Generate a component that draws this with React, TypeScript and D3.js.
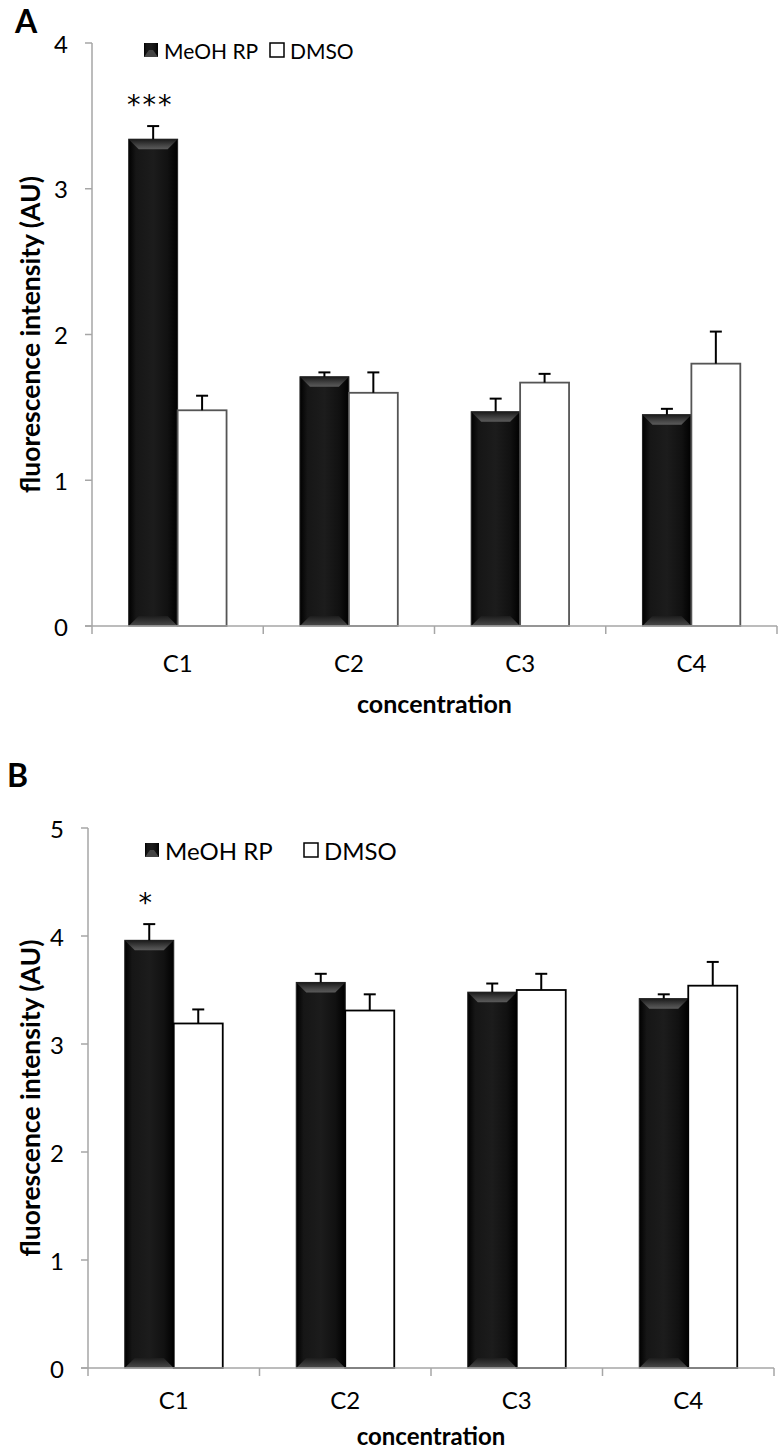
import { useMemo } from 'react';
import * as d3 from 'd3';

// data
const categories = ['C1', 'C2', 'C3', 'C4'];
const seriesNames = ['MeOH RP', 'DMSO'];

const meohA = [3.34, 1.71, 1.47, 1.45];
const meohErrA = [0.09, 0.03, 0.09, 0.04];
const dmsoA = [1.48, 1.6, 1.67, 1.8];
const dmsoErrA = [0.1, 0.14, 0.06, 0.22];
const starsA = ['***', '', '', ''];
const ticksA = [0, 1, 2, 3, 4];

const meohB = [3.96, 3.57, 3.48, 3.42];
const meohErrB = [0.15, 0.08, 0.08, 0.04];
const dmsoB = [3.19, 3.31, 3.5, 3.54];
const dmsoErrB = [0.13, 0.15, 0.15, 0.22];
const starsB = ['*', '', '', ''];
const ticksB = [0, 1, 2, 3, 4, 5];

const FONT = 'Lato, "Open Sans", sans-serif';
const AXIS = '#a6a6a6';

interface PanelProps {
  letter: string;
  letterX: number;
  letterY: number;
  top: number;
  bottom: number;
  left: number;
  right: number;
  ticks: number[];
  meoh: number[];
  meohErr: number[];
  dmso: number[];
  dmsoErr: number[];
  stars: string[];
  legendY: number;
  legendX: [number, number];
  legendFont: number;
  whiteStroke: string;
  catOffset: number;
  titleOffset: number;
  titleFont: number;
}

function BlackBar({ x, y, w, h }: { x: number; y: number; w: number; h: number }) {
  const b = Math.min(10, h / 2);
  return (
    <g>
      <rect x={x} y={y} width={w} height={h} fill="url(#barSide)" stroke="#222" strokeWidth={1} />
      <polygon
        points={`${x},${y} ${x + w},${y} ${x + w - b},${y + b} ${x + b},${y + b}`}
        fill="url(#bevelTop)"
      />
      <polygon
        points={`${x},${y + h} ${x + w},${y + h} ${x + w - b},${y + h - b} ${x + b},${y + h - b}`}
        fill="url(#bevelBottom)"
      />
    </g>
  );
}

function Panel(p: PanelProps) {
  const x0 = useMemo(
    () =>
      d3
        .scaleBand<string>()
        .domain(categories)
        .range([p.left, p.right])
        .paddingInner(1.5 / 3.5)
        .paddingOuter(0.75 / 3.5),
    [p.left, p.right],
  );
  const x1 = d3.scaleBand<string>().domain(seriesNames).range([0, x0.bandwidth()]);
  const y = d3
    .scaleLinear()
    .domain([0, d3.max(p.ticks)!])
    .range([p.bottom, p.top]);
  const step = x0.step();
  const w = x1.bandwidth();

  const errBar = (cx: number, v: number, e: number, key: string) => (
    <g key={key} stroke="#000" strokeWidth={2}>
      <line x1={cx} x2={cx} y1={y(v)} y2={y(v + e)} />
      <line x1={cx - 6} x2={cx + 6} y1={y(v + e)} y2={y(v + e)} />
    </g>
  );

  const midY = (p.top + p.bottom) / 2;
  const midX = (p.left + p.right) / 2;

  return (
    <g>
      <text x={p.letterX} y={p.letterY} fontSize={32} fontWeight="bold" fontFamily={FONT}>
        {p.letter}
      </text>

      {/* y axis */}
      <line x1={p.left} x2={p.left} y1={p.top} y2={p.bottom} stroke={AXIS} strokeWidth={1.5} />
      {p.ticks.map((t) => (
        <g key={t}>
          <line x1={p.left - 7} x2={p.left} y1={y(t)} y2={y(t)} stroke={AXIS} strokeWidth={1.5} />
          <text
            x={p.left - 24}
            y={y(t)}
            textAnchor="end"
            dominantBaseline="central"
            fontSize={24}
            fontFamily={FONT}
          >
            {t}
          </text>
        </g>
      ))}
      <text
        transform={`translate(30, ${midY}) rotate(-90)`}
        textAnchor="middle"
        dominantBaseline="central"
        fontSize={26.5}
        fontWeight="bold"
        fontFamily={FONT}
      >
        fluorescence intensity (AU)
      </text>

      {/* bars */}
      {categories.map((c, i) => {
        const gx = x0(c)!;
        const bx = gx + x1('MeOH RP')!;
        const wx = gx + x1('DMSO')!;
        return (
          <g key={c}>
            <BlackBar x={bx} y={y(p.meoh[i])} w={w} h={y(0) - y(p.meoh[i])} />
            <rect
              x={wx}
              y={y(p.dmso[i])}
              width={w}
              height={y(0) - y(p.dmso[i])}
              fill="#fff"
              stroke={p.whiteStroke}
              strokeWidth={1.8}
            />
            {errBar(bx + w / 2, p.meoh[i], p.meohErr[i], 'm')}
            {errBar(wx + w / 2, p.dmso[i], p.dmsoErr[i], 'd')}
            {p.stars[i] && (
              <text
                x={bx + w / 2 - 3}
                y={y(p.meoh[i] + p.meohErr[i]) - 12}
                textAnchor="middle"
                fontSize={27}
                letterSpacing={2}
                fontFamily='"DejaVu Sans", sans-serif'
              >
                {p.stars[i]}
              </text>
            )}
          </g>
        );
      })}

      {/* x axis */}
      <line x1={p.left - 7} x2={p.right} y1={p.bottom} y2={p.bottom} stroke={AXIS} strokeWidth={1.5} />
      {d3.range(categories.length + 1).map((k) => (
        <line
          key={k}
          x1={p.left + k * step}
          x2={p.left + k * step}
          y1={p.bottom}
          y2={p.bottom + 8}
          stroke={AXIS}
          strokeWidth={1.5}
        />
      ))}
      {categories.map((c) => (
        <text
          key={c}
          x={x0(c)! + x0.bandwidth() / 2}
          y={p.bottom + p.catOffset}
          textAnchor="middle"
          dominantBaseline="central"
          fontSize={24}
          fontFamily={FONT}
        >
          {c}
        </text>
      ))}
      <text
        x={midX}
        y={p.bottom + p.titleOffset}
        textAnchor="middle"
        dominantBaseline="central"
        fontSize={p.titleFont}
        fontWeight="bold"
        fontFamily={FONT}
      >
        concentration
      </text>

      {/* legend */}
      <g>
        <rect x={p.legendX[0]} y={p.legendY - 7} width={14} height={14} fill="url(#barSide)" />
        <polygon
          points={`${p.legendX[0]},${p.legendY + 7} ${p.legendX[0] + 14},${p.legendY + 7} ${p.legendX[0] + 9},${p.legendY} ${p.legendX[0] + 5},${p.legendY}`}
          fill="#444"
        />
        <text
          x={p.legendX[0] + 20}
          y={p.legendY}
          dominantBaseline="central"
          fontSize={p.legendFont}
          fontFamily={FONT}
        >
          {seriesNames[0]}
        </text>
        <rect
          x={p.legendX[1]}
          y={p.legendY - 7}
          width={14}
          height={14}
          fill="#fff"
          stroke="#000"
          strokeWidth={1.5}
        />
        <text
          x={p.legendX[1] + 20}
          y={p.legendY}
          dominantBaseline="central"
          fontSize={p.legendFont}
          fontFamily={FONT}
        >
          {seriesNames[1]}
        </text>
      </g>
    </g>
  );
}

export default function App() {
  return (
    <div style={{ position: 'absolute', left: 0, top: 0, background: '#fff' }}>
      <svg width={780} height={1451} viewBox="0 0 780 1451">
        <defs>
          <linearGradient id="barSide" x1="0" x2="1" y1="0" y2="0">
            <stop offset="0%" stopColor="#000" />
            <stop offset="15%" stopColor="#161616" />
            <stop offset="50%" stopColor="#1c1c1c" />
            <stop offset="80%" stopColor="#111" />
            <stop offset="100%" stopColor="#000" />
          </linearGradient>
          <linearGradient id="bevelTop" x1="0" x2="0" y1="0" y2="1">
            <stop offset="0%" stopColor="#1a1a1a" />
            <stop offset="70%" stopColor="#4a4a4a" />
            <stop offset="100%" stopColor="#5a5a5a" />
          </linearGradient>
          <linearGradient id="bevelBottom" x1="0" x2="0" y1="1" y2="0">
            <stop offset="0%" stopColor="#4a4a4a" />
            <stop offset="100%" stopColor="#1c1c1c" />
          </linearGradient>
        </defs>
        <rect width={780} height={1451} fill="#fff" />
        <Panel
          letter="A"
          letterX={15}
          letterY={33}
          top={43}
          bottom={626}
          left={92}
          right={777}
          ticks={ticksA}
          meoh={meohA}
          meohErr={meohErrA}
          dmso={dmsoA}
          dmsoErr={dmsoErrA}
          stars={starsA}
          legendY={50}
          legendX={[144, 270]}
          legendFont={21}
          whiteStroke="#555"
          catOffset={36}
          titleOffset={77}
          titleFont={25}
        />
        <Panel
          letter="B"
          letterX={7}
          letterY={787}
          top={828}
          bottom={1368}
          left={88}
          right={774}
          ticks={ticksB}
          meoh={meohB}
          meohErr={meohErrB}
          dmso={dmsoB}
          dmsoErr={dmsoErrB}
          stars={starsB}
          legendY={850}
          legendX={[145, 304]}
          legendFont={24}
          whiteStroke="#000"
          catOffset={31}
          titleOffset={67}
          titleFont={24}
        />
      </svg>
    </div>
  );
}
